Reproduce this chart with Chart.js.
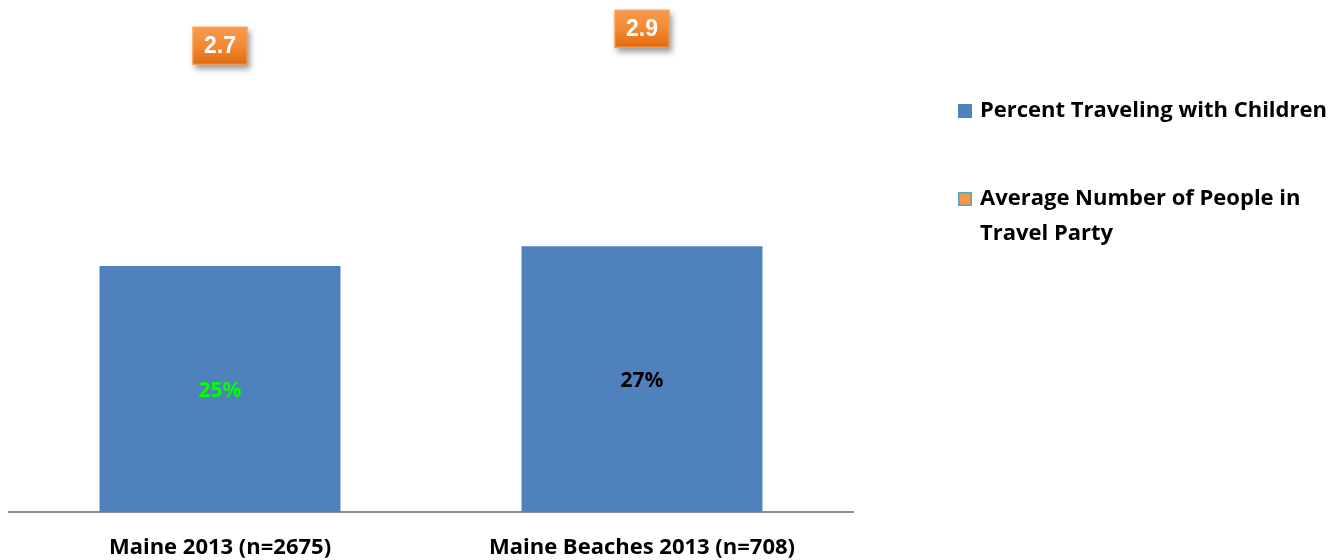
<!DOCTYPE html>
<html>
<head>
<meta charset="utf-8">
<script src="https://cdn.jsdelivr.net/npm/chart.js@4/dist/chart.umd.min.js"></script>
<style>
  html, body { margin: 0; padding: 0; background: #fff; }
  #wrap { width: 1334px; height: 560px; position: relative; }
</style>
</head>
<body>
<div id="wrap"><canvas id="c" width="1334" height="560"></canvas></div>
<script>
// Travel party profile: share travelling with children and average party size
const categories = ['Maine 2013 (n=2675)', 'Maine Beaches 2013 (n=708)'];
const pctWithChildren = [25, 27];
const avgPartySize = [2.7, 2.9];
const seriesNames = ['Percent Traveling with Children', ['Average Number of People in', 'Travel Party']];

const BLUE = '#4F81BD';
const ORANGE = '#F79646';
const FONT = '"Open Sans", "DejaVu Sans", sans-serif';

// Percent labels centred inside each bar
const barValueLabels = {
  id: 'barValueLabels',
  afterDatasetsDraw(chart) {
    const ctx = chart.ctx;
    const meta = chart.getDatasetMeta(0);
    const colors = ['#00FF00', '#000000'];
    ctx.save();
    ctx.font = '700 21px ' + FONT;
    ctx.textAlign = 'center';
    ctx.textBaseline = 'middle';
    meta.data.forEach((bar, i) => {
      const v = chart.data.datasets[0].data[i];
      ctx.fillStyle = colors[i];
      ctx.fillText(v + '%', bar.x, (bar.y + bar.base) / 2 + 2);
    });
    ctx.restore();
  }
};

// Orange call-out boxes for the average party size
const partySizeBoxes = {
  id: 'partySizeBoxes',
  afterDatasetsDraw(chart) {
    const ctx = chart.ctx;
    const meta = chart.getDatasetMeta(1);
    ctx.save();
    meta.data.forEach((pt, i) => {
      const v = chart.data.datasets[1].data[i];
      const w = 55, h = 38;
      const x = pt.x - w / 2, y = pt.y - h / 2;
      const g = ctx.createLinearGradient(0, y, 0, y + h);
      g.addColorStop(0, '#F99A4E');
      g.addColorStop(0.5, '#F38A33');
      g.addColorStop(1, '#E06A10');
      ctx.shadowColor = 'rgba(0,0,0,0.4)';
      ctx.shadowBlur = 6;
      ctx.shadowOffsetX = 2;
      ctx.shadowOffsetY = 4;
      ctx.fillStyle = g;
      ctx.fillRect(x, y, w, h);
      ctx.shadowColor = 'transparent';
      ctx.strokeStyle = '#F5A96A';
      ctx.lineWidth = 1;
      ctx.strokeRect(x + 0.5, y + 0.5, w - 1, h - 1);
      ctx.fillStyle = '#FFFFFF';
      ctx.font = '700 23px "Liberation Sans", Arial, sans-serif';
      ctx.textAlign = 'center';
      ctx.textBaseline = 'middle';
      ctx.fillText(v.toFixed(1), pt.x, pt.y + 1);
    });
    ctx.restore();
  }
};

// Legend on the right side, second entry wraps onto two lines
const sideLegend = {
  id: 'sideLegend',
  afterDraw(chart) {
    const ctx = chart.ctx;
    ctx.save();
    ctx.font = '700 22px ' + FONT;
    ctx.textBaseline = 'middle';
    ctx.textAlign = 'left';
    // first entry
    ctx.fillStyle = BLUE;
    ctx.fillRect(958, 104, 14, 14);
    ctx.fillStyle = '#000';
    ctx.fillText(seriesNames[0], 980, 111);
    // second entry
    ctx.fillStyle = ORANGE;
    ctx.fillRect(958, 192, 14, 14);
    ctx.strokeStyle = '#4BACC6';
    ctx.lineWidth = 1.5;
    ctx.strokeRect(958.75, 192.75, 12.5, 12.5);
    ctx.fillStyle = '#000';
    ctx.fillText(seriesNames[1][0], 980, 199);
    ctx.fillText(seriesNames[1][1], 980, 234);
    ctx.restore();
  }
};

new Chart(document.getElementById('c'), {
  data: {
    labels: categories,
    datasets: [
      {
        type: 'bar',
        label: 'Percent Traveling with Children',
        data: pctWithChildren,
        backgroundColor: BLUE,
        borderWidth: 0,
        barPercentage: 0.571,
        categoryPercentage: 1.0,
        yAxisID: 'y',
        order: 2
      },
      {
        type: 'line',
        label: 'Average Number of People in Travel Party',
        data: avgPartySize,
        showLine: false,
        pointRadius: 0,
        borderColor: ORANGE,
        backgroundColor: ORANGE,
        yAxisID: 'y1',
        order: 1
      }
    ]
  },
  options: {
    responsive: false,
    animation: false,
    layout: { padding: { left: 9, right: 481, top: 10, bottom: 0 } },
    plugins: {
      legend: { display: false },
      tooltip: { enabled: false }
    },
    scales: {
      x: {
        offset: true,
        grid: { display: false, drawTicks: false },
        border: { display: true, color: '#8C8C8C', width: 2 },
        ticks: {
          color: '#000',
          padding: 23,
          font: { family: FONT, size: 22, weight: '700' }
        },
        afterFit(scale) { scale.height = 48; }
      },
      y: {
        display: false,
        min: 0,
        max: 51
      },
      y1: {
        display: false,
        position: 'right',
        min: -2.78,
        max: 3.12
      }
    }
  },
  plugins: [barValueLabels, partySizeBoxes, sideLegend]
});
</script>
</body>
</html>
